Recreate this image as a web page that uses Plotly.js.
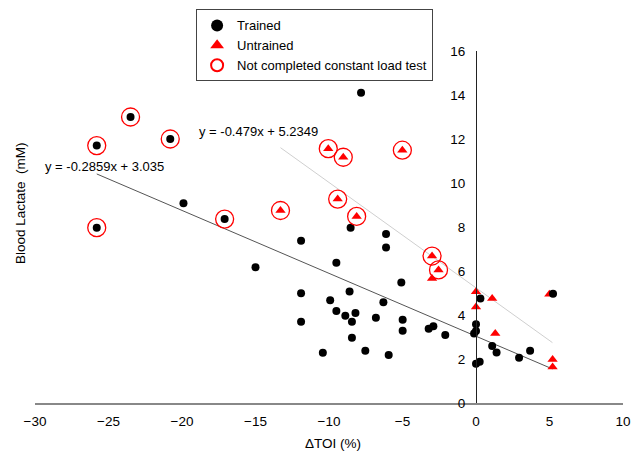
<!DOCTYPE html>
<html>
<head>
<meta charset="utf-8">
<script src="https://cdn.plot.ly/plotly-3.0.1.min.js"></script>
<style>html,body{margin:0;padding:0;background:#fff;}#chart{width:632px;height:458px;}</style>
</head>
<body>
<div id="chart"></div>
<script>
// Trained participants (ΔTOI %, blood lactate mM)
var trainedX = [-25.8, -23.5, -20.8, -25.8, -19.9, -17.1, -15.0, -11.9, -11.9, -11.9,
  -7.82, -8.53, -6.12, -6.12, -9.5, -5.08, -8.6, -9.92, -6.3, -9.5,
  -8.2, -8.89, -8.44, -6.81, -4.99, -4.99, -3.22, -2.9, -2.09, -8.44,
  -10.42, -7.53, -5.94, 0, 0, -0.13, 0.3, 0, 0.25, 1.1,
  1.4, 2.93, 3.68, 5.24];
var trainedY = [11.7, 13.0, 12.0, 7.97, 9.08, 8.36, 6.17, 7.37, 4.99, 3.69,
  14.1, 7.97, 7.68, 7.07, 6.38, 5.48, 5.07, 4.67, 4.58, 4.18,
  4.09, 3.97, 3.69, 3.87, 3.78, 3.28, 3.37, 3.49, 3.09, 2.97,
  2.28, 2.38, 2.18, 3.58, 3.27, 3.16, 4.75, 1.78, 1.87, 2.59,
  2.3, 2.06, 2.38, 4.97];

// Untrained participants
var untrainedX = [-13.3, -10.05, -9.03, -5.01, -9.41, -8.12, -2.99, -2.55, -2.99, 0,
  0, 1.1, 1.31, 4.99, 5.21, 5.21];
var untrainedY = [8.75, 11.56, 11.17, 11.49, 9.27, 8.48, 6.68, 6.05, 5.66, 5.06,
  4.36, 4.75, 3.16, 4.94, 1.98, 1.64];

// Participants who did not complete the constant load test
var notCompletedX = [-25.8, -23.5, -20.8, -25.8, -17.1, -13.3, -10.05, -9.03, -5.01, -9.41, -8.12, -2.99, -2.55];
var notCompletedY = [11.7, 13.0, 12.0, 7.97, 8.36, 8.75, 11.56, 11.17, 11.49, 9.27, 8.48, 6.68, 6.05];

// Linear fits
var fitTrained = {slope: -0.2859, intercept: 3.035, xFrom: -25.8, xTo: 5.2, label: 'y = -0.2859x + 3.035'};
var fitUntrained = {slope: -0.479, intercept: 5.2349, xFrom: -13.3, xTo: 5.2, label: 'y = -0.479x + 5.2349'};

// Axis ticks
var xTicks = [-30, -25, -20, -15, -10, -5, 0, 5, 10];
var yTicks = [0, 2, 4, 6, 8, 10, 12, 14, 16];

function fitLine(f) {
  return {x: [f.xFrom, f.xTo], y: [f.slope * f.xFrom + f.intercept, f.slope * f.xTo + f.intercept]};
}
var l1 = fitLine(fitTrained), l2 = fitLine(fitUntrained);

var FONT = 'Liberation Sans, Arial, Helvetica, sans-serif';

var data = [
  {x: l2.x, y: l2.y, mode: 'lines', type: 'scatter', showlegend: false, hoverinfo: 'skip',
   line: {color: '#cfcfcf', width: 1}},
  {x: l1.x, y: l1.y, mode: 'lines', type: 'scatter', showlegend: false, hoverinfo: 'skip',
   line: {color: '#555555', width: 1}},
  {x: untrainedX, y: untrainedY, mode: 'markers', type: 'scatter', name: 'Untrained', legendrank: 2,
   marker: {symbol: 'triangle-up', size: 9, color: '#ff0000'}},
  {x: trainedX, y: trainedY, mode: 'markers', type: 'scatter', name: 'Trained', legendrank: 1,
   marker: {symbol: 'circle', size: 8, color: '#000000'}},
  {x: notCompletedX, y: notCompletedY, mode: 'markers', type: 'scatter', name: 'Not completed constant load test', legendrank: 3,
   marker: {symbol: 'circle-open', size: 18, color: '#ff0000', line: {width: 1.3, color: '#ff0000'}}}
];

var layout = {
  width: 632, height: 458,
  margin: {l: 35, r: 9, t: 47, b: 55},
  paper_bgcolor: '#ffffff', plot_bgcolor: '#ffffff',
  font: {family: FONT, size: 13, color: '#000'},
  showlegend: true,
  legend: {x: 0.274, y: 1.118, xanchor: 'left', yanchor: 'top', bgcolor: '#ffffff',
    bordercolor: '#444', borderwidth: 1, itemsizing: 'constant', font: {family: FONT, size: 13, color: '#000'},
    traceorder: 'normal'},
  xaxis: {range: [-30, 10], tickvals: xTicks, showgrid: false, zeroline: false, showline: true,
    linecolor: '#888', linewidth: 1.5, ticks: '', ticklabelstandoff: 5, tickfont: {size: 13.5, color: '#000'},
    fixedrange: true},
  yaxis: {range: [0, 16], tickvals: yTicks, showgrid: false, zeroline: false, showline: true,
    linecolor: '#222', linewidth: 1.3, ticks: '', anchor: 'free', position: 0.75, ticklabelstandoff: 8,
    tickfont: {size: 13.5, color: '#000'}, fixedrange: true},
  annotations: [
    {text: fitTrained.label, x: -29.46, y: 10.74, xref: 'x', yref: 'y', xanchor: 'left', yanchor: 'middle',
     showarrow: false, font: {size: 13, color: '#000'}},
    {text: fitUntrained.label, x: -18.98, y: 12.36, xref: 'x', yref: 'y', xanchor: 'left', yanchor: 'middle',
     showarrow: false, font: {size: 13, color: '#000'}},
    {text: 'Blood Lactate\u00a0 (mM)', x: -0.0255, y: 0.568, xref: 'paper', yref: 'paper', textangle: -90,
     xanchor: 'center', yanchor: 'middle', showarrow: false, font: {size: 13.5, color: '#000'}},
    {text: '\u0394TOI (%)', x: 0.507, y: -0.115, xref: 'paper', yref: 'paper', xanchor: 'center', yanchor: 'middle',
     showarrow: false, font: {size: 13.5, color: '#000'}}
  ]
};

Plotly.newPlot('chart', data, layout, {displayModeBar: false, staticPlot: true});
</script>
</body>
</html>
